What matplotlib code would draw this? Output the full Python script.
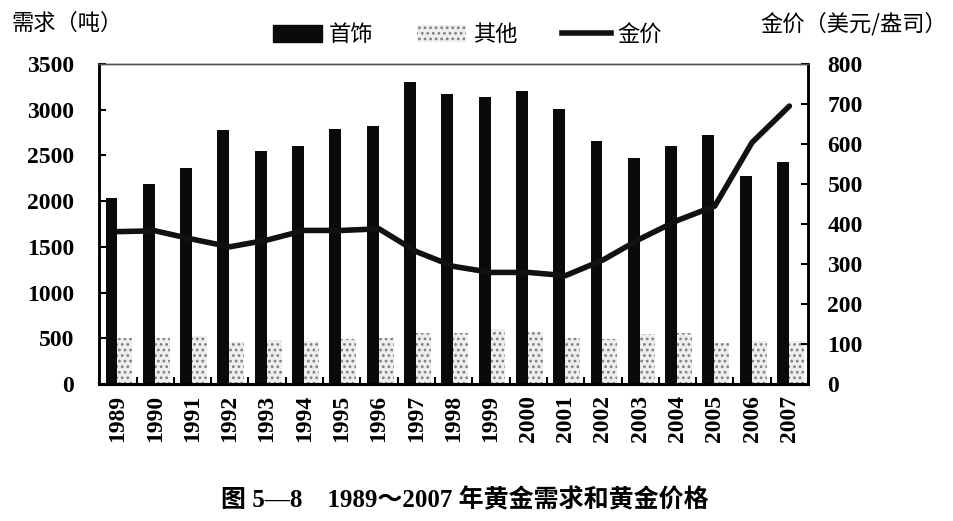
import matplotlib
matplotlib.use("Agg")
import matplotlib.pyplot as plt
import numpy as np
from matplotlib.patches import Patch
from matplotlib.lines import Line2D

plt.rcParams['font.family'] = ['Liberation Serif', 'Noto Sans CJK SC', 'DejaVu Sans']
plt.rcParams['hatch.linewidth'] = 1.2

years = ['1989', '1990', '1991', '1992', '1993', '1994', '1995', '1996', '1997', '1998',
         '1999', '2000', '2001', '2002', '2003', '2004', '2005', '2006', '2007']
jewelry = [2040, 2190, 2360, 2775, 2550, 2600, 2790, 2820, 3300, 3170,
           3140, 3205, 3010, 2660, 2475, 2605, 2720, 2275, 2430]
other = [500, 500, 525, 455, 480, 465, 495, 500, 560, 560,
         600, 565, 505, 490, 545, 555, 445, 470, 465]
gold_price = [381, 383, 362, 343, 360, 384, 384, 388, 331, 294,
              279, 279, 271, 310, 363, 409, 445, 604, 695]

left_ticks = [0, 500, 1000, 1500, 2000, 2500, 3000, 3500]
right_ticks = [0, 100, 200, 300, 400, 500, 600, 700, 800]

fig = plt.figure(figsize=(9.54, 5.21), dpi=100)
ax = fig.add_axes([0.104, 0.263, 0.743, 0.614])
ax2 = ax.twinx()

x = np.arange(len(years))
ax.bar(x - 0.17, jewelry, width=0.32, color='#0a0a0a', zorder=2)
ax.bar(x + 0.19, other, width=0.40, facecolor='#eeeeee', edgecolor='#808080',
       hatch='...', linewidth=0, zorder=2)

ax.set_xlim(-0.5, len(years) - 0.5)
ax.set_ylim(0, 3500)
ax.set_yticks(left_ticks)
ax.set_yticklabels([str(t) for t in left_ticks], fontsize=17, fontweight='bold')
ax.set_xticks(np.arange(len(years) + 1) - 0.5, minor=False)
ax.set_xticklabels([''] * (len(years) + 1))
ax.set_xticks(x, minor=True)
ax.set_xticklabels(years, minor=True, rotation=90, fontsize=17, fontweight='bold')
ax.tick_params(axis='x', which='major', direction='in', length=5, width=1.5)
ax.tick_params(axis='x', which='minor', length=0, pad=8)
ax.tick_params(axis='y', direction='in', length=5, width=1.5, pad=18)

ax2.plot(x, gold_price, color='#111111', linewidth=4, solid_capstyle='round', zorder=3)
ax2.set_ylim(0, 800)
ax2.set_yticks(right_ticks)
ax2.set_yticklabels([str(t) for t in right_ticks], fontsize=17, fontweight='bold')
ax2.tick_params(axis='y', direction='in', length=5, width=1.5, pad=14)

for a in (ax, ax2):
    a.spines['left'].set_linewidth(1.8)
    a.spines['right'].set_linewidth(1.8)
    a.spines['bottom'].set_linewidth(2.2)
    a.spines['top'].set_linewidth(1.0)
    a.spines['top'].set_color('#555555')

fig.text(0.012, 0.955, '需求（吨）', fontsize=16, fontweight='medium', family=['Noto Sans CJK SC'],
         ha='left', va='center')
fig.text(0.993, 0.955, '金价（美元/盎司）', fontsize=16, fontweight='medium', family=['Noto Sans CJK SC'],
         ha='right', va='center')

handles = [Patch(facecolor='#0a0a0a', edgecolor='#0a0a0a'),
           Patch(facecolor='#eeeeee', edgecolor='#808080', hatch='...', linewidth=0),
           Line2D([0], [0], color='#111111', linewidth=4)]
fig.legend(handles, ['首饰', '其他', '金价'], loc='center', bbox_to_anchor=(0.49, 0.933),
           ncol=3, frameon=False, prop={'family': 'Noto Sans CJK SC', 'size': 16, 'weight': 'medium'},
           handlelength=2.2, handleheight=0.8, handletextpad=0.3, columnspacing=2.0)

fig.text(0.487, 0.04, '图 5—8　1989～2007 年黄金需求和黄金价格', fontsize=18, fontweight='bold',
         family=['Liberation Serif', 'Noto Sans CJK SC'], ha='center', va='center')

fig.savefig('out.png', dpi=100)
